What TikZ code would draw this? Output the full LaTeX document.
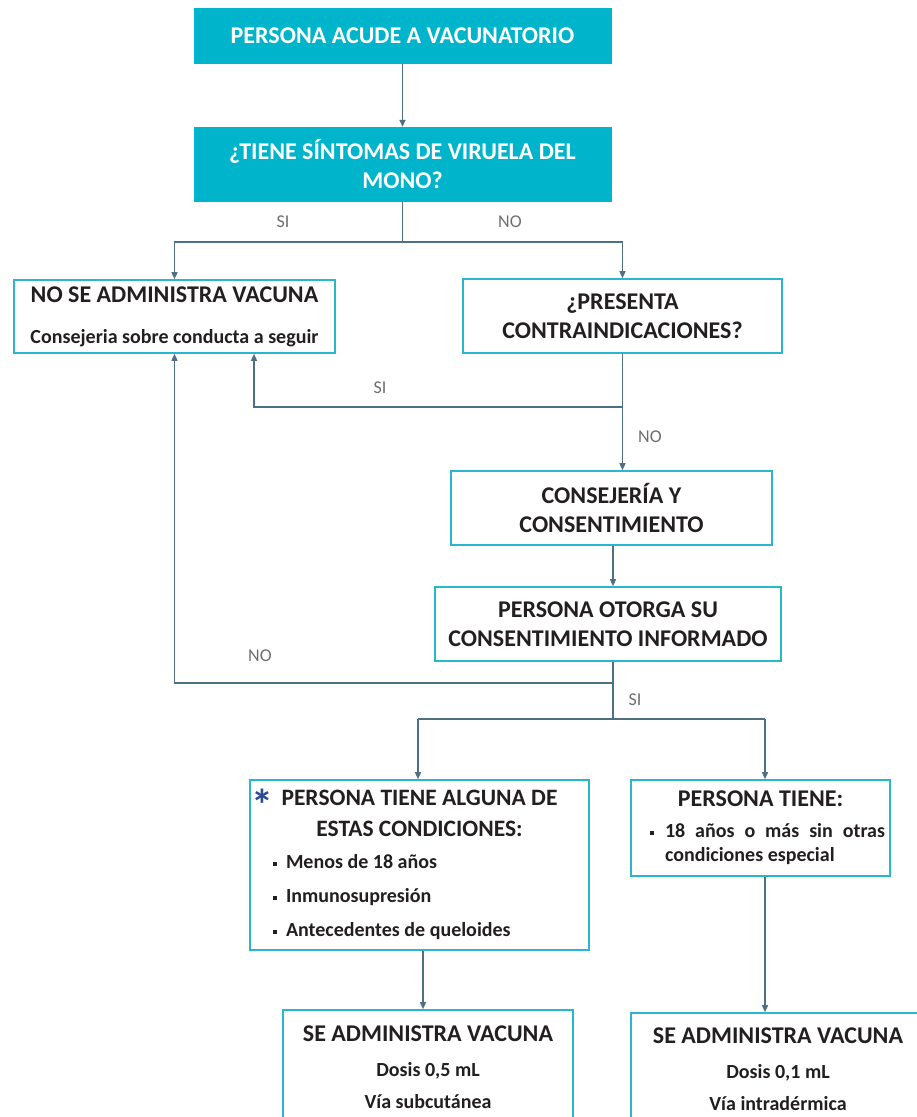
\documentclass[tikz,border=0pt]{standalone}
\usepackage{fontspec}
\setmainfont{Carlito}
\usetikzlibrary{arrows.meta}
\pgfdeclarelayer{edgelayer}
\pgfdeclarelayer{nodelayer}
\pgfsetlayers{edgelayer,nodelayer,main}
\definecolor{headfill}{HTML}{00B4CC}
\definecolor{boxline}{HTML}{29B6CE}
\definecolor{wirecol}{HTML}{4F6F83}
\definecolor{ink}{HTML}{231F20}
\definecolor{lblgray}{HTML}{6D6E71}
\definecolor{starblue}{HTML}{2A4A93}
\newcommand{\smallbf}{\fontsize{20}{24}\selectfont\bfseries}
\newcommand{\bulletsq}{\rule[3pt]{4pt}{4pt}}
\tikzset{font=\fontsize{18}{22}\selectfont}
\tikzstyle{none}=[inner sep=0pt]
\tikzstyle{head}=[rectangle,fill=headfill,draw=headfill,text=white,align=center,font=\fontsize{24}{29}\selectfont\bfseries]
\tikzstyle{box}=[rectangle,draw=boxline,line width=1.6pt,fill=white,text=ink,align=center,font=\fontsize{24}{29}\selectfont\bfseries]
\tikzstyle{lbl}=[inner sep=0pt,text=lblgray]
\tikzstyle{wire}=[draw=wirecol,line width=1.4pt]
\tikzstyle{arrow}=[wire,-{Triangle[length=7pt,width=6pt]}]

\begin{document}
\begin{tikzpicture}[x=10pt,y=10pt]
	\useasboundingbox (0,0) rectangle (91.7,-111.7);
	\begin{pgfonlayer}{nodelayer}
		\node [style=head, minimum width=417pt, minimum height=55pt] (0) at (40.25, -3.55) {PERSONA ACUDE A VACUNATORIO};
		\node [style=head, minimum width=417pt, minimum height=74pt] (1) at (40.25, -16.4) {¿TIENE SÍNTOMAS DE VIRUELA DEL\\MONO?};
		\node [style=box, minimum width=321pt, minimum height=73pt] (2) at (17.45, -31.65) {NO SE ADMINISTRA VACUNA\\[12pt]{\smallbf Consejeria sobre conducta a seguir}};
		\node [style=box, minimum width=319pt, minimum height=74pt] (3) at (62.25, -31.6) {¿PRESENTA\\CONTRAINDICACIONES?};
		\node [style=box, minimum width=321pt, minimum height=74pt] (4) at (61.15, -50.8) {CONSEJERÍA Y\\CONSENTIMIENTO};
		\node [style=box, minimum width=346pt, minimum height=74pt] (5) at (60.8, -62.4) {PERSONA OTORGA SU\\CONSENTIMIENTO INFORMADO};
		\node [style=box, align=justify, text width=315pt, inner xsep=12pt, minimum height=170pt] (6) at (41.95, -86.5) {{\centering\fontsize{23.5}{31}\selectfont\llap{\textcolor{starblue}{\smash{\raisebox{-15pt}{\fontsize{44}{44}\selectfont *}}}\hspace{8pt}}PERSONA TIENE ALGUNA DE\par
			ESTAS CONDICIONES:\par}\vspace{-2pt}
			{\fontsize{20}{34}\selectfont\hspace*{11pt}\bulletsq\hspace{9pt}Menos de 18 años\par
			\hspace*{11pt}\bulletsq\hspace{9pt}Inmunosupresión\par
			\hspace*{11pt}\bulletsq\hspace{9pt}Antecedentes de queloides\par}};
		\node [style=box, align=justify, text width=249pt, inner xsep=5pt, minimum height=96pt] (7) at (76.05, -82.8) {{\centering PERSONA TIENE:\par}\vspace{7pt}
			{\fontsize{20}{24}\selectfont\leftskip=29pt\noindent\llap{\bulletsq\hspace{11pt}}18 años o más sin otras\linebreak condiciones especial\par}};
		\node [style=box, minimum width=290pt, minimum height=115pt] (8) at (42.8, -106.75) {SE ADMINISTRA VACUNA\\[6pt]{\smallbf Dosis 0,5 mL}\\[3pt]{\smallbf Vía subcutánea}};
		\node [style=box, minimum width=294pt, minimum height=112pt] (9) at (77.8, -106.9) {SE ADMINISTRA VACUNA\\[6pt]{\smallbf Dosis 0,1 mL}\\[3pt]{\smallbf Vía intradérmica}};
		\node [style=none] (10) at (40.25, -24.2) {};
		\node [style=none] (11) at (62.25, -40.7) {};
		\node [style=none] (12) at (25.4, -40.7) {};
		\node [style=none] (13) at (61.3, -68.3) {};
		\node [style=none] (14) at (61.3, -71.9) {};
		\node [style=none] (15) at (41.8, -71.9) {};
		\node [style=none] (16) at (76.5, -71.9) {};
		\node [style=none] (17) at (42.3, -95) {};
		\node [style=lbl] (20) at (28.3, -22.2) {SI};
		\node [style=lbl] (21) at (51, -22.2) {NO};
		\node [style=lbl] (22) at (38, -38.8) {SI};
		\node [style=lbl] (23) at (65, -43.7) {NO};
		\node [style=lbl] (24) at (26, -65.6) {NO};
		\node [style=lbl] (25) at (63.5, -70) {SI};
	\end{pgfonlayer}
	\begin{pgfonlayer}{edgelayer}
		\draw [style=arrow] (0) to (1);
		\draw [style=wire] (1) to (10.center);
		\draw [style=arrow] (10.center) -| (2);
		\draw [style=arrow] (10.center) -| (3);
		\draw [style=arrow] (3) to (3 |- 4.north);
		\draw [style=arrow] (11.center) to (12.center) to (12 |- 2.south);
		\draw [style=arrow] (13 |- 4.south) to (13 |- 5.north);
		\draw [style=wire] (13 |- 5.south) to (14.center);
		\draw [style=arrow] (13.center) -| (2);
		\draw [style=wire] (15.center) to (16.center);
		\draw [style=arrow] (15.center) to (15 |- 6.north);
		\draw [style=arrow] (16.center) to (16 |- 7.north);
		\draw [style=arrow] (17 |- 6.south) to (17 |- 8.north);
		\draw [style=arrow] (16 |- 7.south) to (16 |- 9.north);
	\end{pgfonlayer}
\end{tikzpicture}
\end{document}
